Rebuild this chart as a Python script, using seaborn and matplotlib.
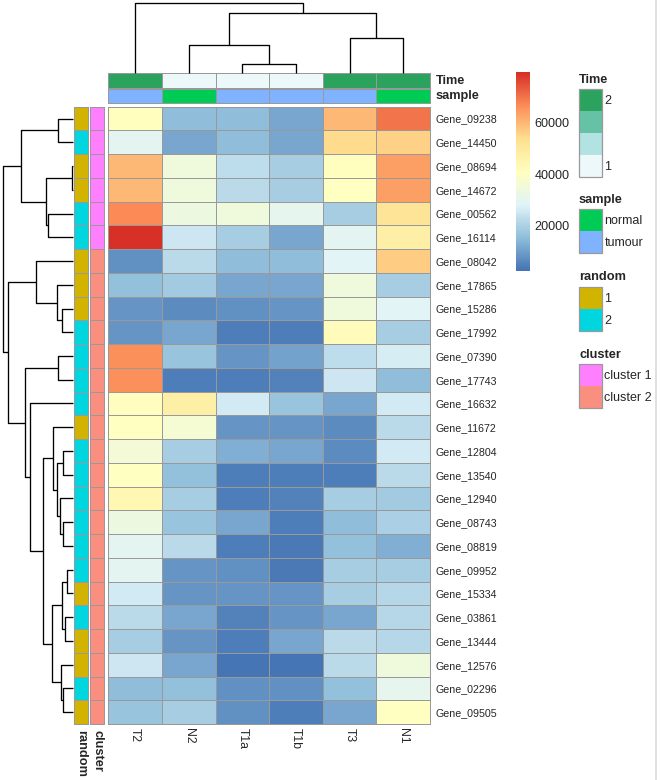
import numpy as np
import pandas as pd
import matplotlib
matplotlib.use("Agg")
import matplotlib.pyplot as plt
import seaborn as sns
from matplotlib.colors import LinearSegmentedColormap, ListedColormap
from matplotlib.patches import Rectangle
from matplotlib.lines import Line2D

# ---------------- data ----------------
genes = ["Gene_09238", "Gene_14450", "Gene_08694", "Gene_14672", "Gene_00562",
         "Gene_16114", "Gene_08042", "Gene_17865", "Gene_15286", "Gene_17992",
         "Gene_07390", "Gene_17743", "Gene_16632", "Gene_11672", "Gene_12804",
         "Gene_13540", "Gene_12940", "Gene_08743", "Gene_08819", "Gene_09952",
         "Gene_15334", "Gene_03861", "Gene_13444", "Gene_12576", "Gene_02296",
         "Gene_09505"]
samples = ["T2", "N2", "T1a", "T1b", "T3", "N1"]

T2 = [41000, 30000, 60400, 60100, 67400, 79900, 6700, 16000, 8200, 8200,
      65900, 66200, 41000, 40200, 35500, 40200, 44100, 33200, 30000, 30000,
      26100, 21500, 18400, 24600, 14500, 16800]
N2 = [14500, 11300, 34700, 34700, 33200, 24600, 21500, 17600, 5900, 10600,
      16800, 4300, 47200, 36300, 19100, 16000, 19100, 16800, 21500, 8200,
      7500, 10600, 8200, 11300, 16000, 18400]
T1a = [15200, 15200, 22300, 21500, 34700, 18400, 14500, 10600, 6700, 3600,
       8200, 3600, 26100, 8200, 12900, 3600, 4300, 10600, 3600, 6700,
       7500, 5100, 4300, 2300, 6700, 6700]
T1b = [11300, 11300, 18400, 18400, 30800, 11300, 14500, 10600, 7500, 3600,
       9800, 5100, 16800, 7500, 10600, 4300, 5100, 3600, 2800, 2800,
       8200, 8200, 11300, 2000, 6700, 3600]
T3 = [60400, 54200, 41000, 40200, 18400, 29300, 28500, 34700, 34700, 42500,
      22300, 24600, 10600, 5900, 5900, 4300, 18400, 14500, 16000, 18400,
      18400, 10600, 21500, 21500, 16000, 10600]
N1 = [69800, 56500, 64300, 64300, 51900, 47200, 57300, 19100, 28500, 18400,
      26900, 14500, 26100, 21500, 25400, 21500, 17600, 19900, 12900, 18400,
      20700, 20700, 20700, 34700, 30800, 40200]

time_values = [2, 1, 1, 1, 2, 2]
sample_type = ["tumour", "normal", "tumour", "tumour", "tumour", "normal"]
random_group = [1, 2, 1, 1, 2, 2, 1, 1, 1, 2, 2, 2, 2, 1, 2, 2, 2, 2, 2, 2,
                1, 2, 1, 1, 2, 1]
cluster_group = ["cluster 1"] * 6 + ["cluster 2"] * 20

# dendrogram merges: (left, right, height) ; ids >= n refer to earlier merges
col_merges = [(2, 3, 9.0), (1, 6, 28.3), (4, 5, 35.0), (7, 8, 60.0), (0, 9, 70.6)]
row_merges = [(0, 1, 15.6), (2, 3, 1.6), (4, 5, 25.6), (27, 28, 27.0),
              (26, 29, 52.6), (8, 9, 11.6), (7, 31, 16.6), (6, 32, 37.6),
              (10, 11, 15.0), (14, 15, 10.6), (17, 18, 10.0), (16, 36, 13.3),
              (35, 37, 16.6), (13, 38, 20.0), (19, 20, 6.6), (21, 22, 8.3),
              (40, 41, 11.6), (24, 25, 10.0), (23, 43, 12.6), (42, 44, 21.6),
              (39, 45, 30.6), (12, 46, 43.0), (34, 47, 48.6), (33, 48, 65.3),
              (30, 49, 70.0)]

cbar_ticks = [20000, 40000, 60000]

# ---------------- styling ----------------
time_colors = ["#EDF8FB", "#B2E2E2", "#66C2A4", "#2CA25F"]
sample_levels = ["normal", "tumour"]
sample_colors = ["#00CC55", "#80B3FF"]
random_levels = [1, 2]
random_colors = ["#D2B400", "#00D6E0"]
cluster_levels = ["cluster 1", "cluster 2"]
cluster_colors = ["#FF80FF", "#FA8F80"]
heat_colors = ["#4575B4", "#91BFDB", "#E0F3F8", "#FFFFBF", "#FEE090", "#FC8D59", "#D73027"]
grid_col = "#999999"
GLW = 0.7

sns.set_theme(style="white")
plt.rcParams["font.family"] = ["Liberation Sans", "DejaVu Sans"]

W, H = 660, 780
fig = plt.figure(figsize=(W / 100, H / 100), dpi=100)
fig.patch.set_facecolor("white")


def add_ax(x0, y0, x1, y1):
    return fig.add_axes([x0 / W, 1 - y1 / H, (x1 - x0) / W, (y1 - y0) / H])


HM = (108.3, 106.7, 430.0, 724.0)
ax = add_ax(*HM)
cax = add_ax(516, 72, 530, 271.3)

df = pd.DataFrame({"T2": T2, "N2": N2, "T1a": T1a, "T1b": T1b, "T3": T3, "N1": N1},
                  index=genes)[samples]
cmap = LinearSegmentedColormap.from_list("rdylbu_r", heat_colors, N=100)
sns.heatmap(df, ax=ax, cmap=cmap, linewidths=GLW, linecolor=grid_col,
            cbar=True, cbar_ax=cax, cbar_kws={"ticks": cbar_ticks},
            xticklabels=True, yticklabels=True)
ax.collections[0].set_clip_on(False)
ax.set_xlabel("")
ax.set_ylabel("")
ax.yaxis.tick_right()
ax.set_yticks(np.arange(len(genes)) + 0.5)
ax.set_yticklabels(genes, rotation=0, fontsize=7.7, ha="left")
ax.set_xticks(np.arange(len(samples)) + 0.5)
ax.set_xticklabels(samples, rotation=270, fontsize=8.8, ha="center", va="top")
ax.tick_params(axis="y", length=0, pad=4.3)
ax.tick_params(axis="x", length=0, pad=2.6)
for s in ax.spines.values():
    s.set_visible(False)

cax.tick_params(length=0, labelsize=9.1, pad=3.5)
cbar = ax.collections[0].colorbar
cbar.outline.set_visible(False)
cbar.set_ticklabels([str(t) for t in cbar_ticks])

# ---------------- column annotations ----------------
time_cmap = LinearSegmentedColormap.from_list("time", time_colors)
ax_time = add_ax(108.3, 73.3, 430.0, 87.6)
sns.heatmap(pd.DataFrame([time_values], columns=samples), ax=ax_time, cmap=time_cmap,
            vmin=1, vmax=2, cbar=False, linewidths=GLW, linecolor=grid_col,
            xticklabels=False, yticklabels=False)
ax_time.collections[0].set_clip_on(False)

ax_samp = add_ax(108.3, 89.0, 430.0, 103.3)
samp_codes = [sample_levels.index(s) for s in sample_type]
sns.heatmap(pd.DataFrame([samp_codes], columns=samples), ax=ax_samp,
            cmap=ListedColormap(sample_colors), vmin=-0.5, vmax=1.5, cbar=False,
            linewidths=GLW, linecolor=grid_col, xticklabels=False, yticklabels=False)
ax_samp.collections[0].set_clip_on(False)

# ---------------- row annotations ----------------
ax_rand = add_ax(74.0, 106.7, 88.3, 724.0)
rand_codes = [random_levels.index(r) for r in random_group]
sns.heatmap(pd.DataFrame({"random": rand_codes}, index=genes), ax=ax_rand,
            cmap=ListedColormap(random_colors), vmin=-0.5, vmax=1.5, cbar=False,
            linewidths=GLW, linecolor=grid_col, xticklabels=False, yticklabels=False)
ax_rand.collections[0].set_clip_on(False)

ax_clus = add_ax(90.0, 106.7, 104.3, 724.0)
clus_codes = [cluster_levels.index(c) for c in cluster_group]
sns.heatmap(pd.DataFrame({"cluster": clus_codes}, index=genes), ax=ax_clus,
            cmap=ListedColormap(cluster_colors), vmin=-0.5, vmax=1.5, cbar=False,
            linewidths=GLW, linecolor=grid_col, xticklabels=False, yticklabels=False)
ax_clus.collections[0].set_clip_on(False)

for a in (ax_time, ax_samp, ax_rand, ax_clus):
    a.set_xlabel("")
    a.set_ylabel("")
    for s in a.spines.values():
        s.set_visible(False)


# ---------------- dendrograms ----------------
def dendro_segments(merges, n):
    pos = {i: i + 0.5 for i in range(n)}
    hgt = {i: 0.0 for i in range(n)}
    segs = []
    for k, (a, b, h) in enumerate(merges):
        segs.append(([pos[a], pos[a], pos[b], pos[b]], [hgt[a], h, h, hgt[b]]))
        pos[n + k] = (pos[a] + pos[b]) / 2
        hgt[n + k] = h
    return segs


ax_cd = add_ax(108.3, 0, 430.0, 73.3)
for xs, ys in dendro_segments(col_merges, len(samples)):
    ax_cd.plot(xs, ys, color="black", lw=0.95, clip_on=False, solid_capstyle="butt")
ax_cd.set_xlim(0, len(samples))
ax_cd.set_ylim(0, 73.3)
ax_cd.axis("off")

ax_rd = add_ax(0, 106.7, 73.3, 724.0)
for ps, hs in dendro_segments(row_merges, len(genes)):
    ax_rd.plot(hs, ps, color="black", lw=0.95, clip_on=False, solid_capstyle="butt")
ax_rd.set_xlim(73.3, 0)
ax_rd.set_ylim(len(genes), 0)
ax_rd.axis("off")


# ---------------- annotation names ----------------
def ftext(x, y, s, **kw):
    fig.text(x / W, 1 - y / H, s, **kw)


ftext(436, 80.6, "Time", va="center", ha="left", weight="bold", fontsize=9.2)
ftext(436, 96.4, "sample", va="center", ha="left", weight="bold", fontsize=9.2)
ftext(81.2, 729.5, "random", va="top", ha="center", rotation=270, weight="bold", fontsize=9.2)
ftext(97.2, 729.5, "cluster", va="top", ha="center", rotation=270, weight="bold", fontsize=9.2)

# ---------------- legends ----------------
lg = fig.add_axes([0, 0, 1, 1], zorder=-1)
lg.set_xlim(0, W)
lg.set_ylim(H, 0)
lg.axis("off")

BX0, BW, BH = 579.3, 22.4, 22.0


def legend_group(title, title_y, colors, labels, label_ys):
    lg.text(579.0, title_y, title, ha="left", va="center", weight="bold", fontsize=9.2)
    top = title_y + 9.0
    for i, c in enumerate(colors):
        lg.add_patch(Rectangle((BX0, top + i * BH), BW, BH, facecolor=c, edgecolor="none"))
    lg.add_patch(Rectangle((BX0, top), BW, BH * len(colors), facecolor="none",
                           edgecolor=grid_col, lw=0.9))
    for lab, ly in zip(labels, label_ys):
        lg.text(604.5, ly, lab, ha="left", va="center", fontsize=9.0)


legend_group("Time", 80.0, time_colors[::-1], ["2", "1"], [101.5, 167.0])
legend_group("sample", 200.0, sample_colors, sample_levels, [221.5, 243.5])
legend_group("random", 277.5, random_colors, [str(r) for r in random_levels], [298.5, 320.5])
legend_group("cluster", 355.0, cluster_colors, cluster_levels, [376.0, 398.0])

# light frame line at right edge of the original screenshot
fig.add_artist(Line2D([656 / W, 656 / W], [0, 1], color="#DADADA", lw=1.2))

fig.savefig("out.png", dpi=100, facecolor="white")
